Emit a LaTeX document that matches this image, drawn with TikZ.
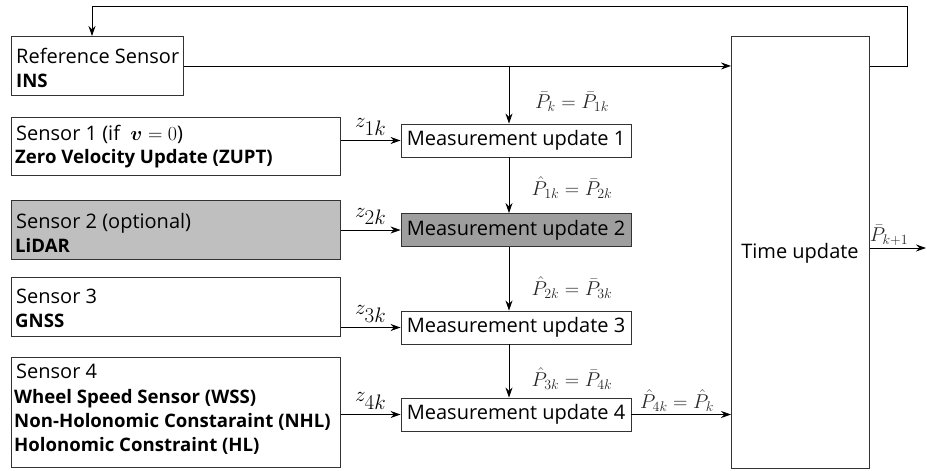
\RequirePackage{fix-cm}
\documentclass[tikz,border=0pt]{standalone}
\usepackage{amsmath,bm}
\usepackage[no-math]{fontspec}
\setmainfont{Open Sans}
\usetikzlibrary{arrows.meta}
\newcommand{\bld}[1]{{\fontsize{18.6}{24}\selectfont\bfseries #1}}
\begin{document}
\begin{tikzpicture}[x=1pt,y=-1pt,
  box/.style={draw=black!80, line width=0.9pt, inner sep=0pt, anchor=north west},
  txt/.style={inner sep=0pt, anchor=base west, font=\fontsize{20}{24}\selectfont},
  mu/.style={draw=black!80, line width=0.9pt, inner sep=0pt, minimum width=230pt, minimum height=33pt, font=\fontsize{20}{24}\selectfont},
  arr/.style={-{Stealth[length=10pt,width=7pt]}, line width=0.8pt},
  zlab/.style={inner sep=0pt, font=\fontsize{21}{24}\selectfont},
  plab/.style={inner sep=0pt, text=black!85, font=\fontsize{20}{24}\selectfont}
]
\useasboundingbox (0,0) rectangle (927,471);
% sensor boxes
\node[box, minimum width=172pt, minimum height=59pt] (ref) at (11,36) {};
\node[box, minimum width=329pt, minimum height=58pt] (s1) at (11,117) {};
\node[box, minimum width=329pt, minimum height=59pt, fill=black!25] (s2) at (11,200) {};
\node[box, minimum width=329pt, minimum height=59pt] (s3) at (11,277) {};
\node[box, minimum width=329pt, minimum height=110pt] (s4) at (11,357) {};
% texts
\node[txt] (reft1) at (16,63) {Reference Sensor};
\node[txt] (reft2) at (16,87) {\bld{INS}};
\node[txt] (s1t1) at (16,140) {Sensor 1 (if \ $\bm{v}=0$)};
\node[txt] (s1t2) at (15,163) {\bld{Zero Velocity Update (ZUPT)}};
\node[txt] (s2t1) at (16,228) {Sensor 2 (optional)};
\node[txt] (s2t2) at (15,252) {\bld{LiDAR}};
\node[txt] (s3t1) at (16,303) {Sensor 3};
\node[txt] (s3t2) at (15,327) {\bld{GNSS}};
\node[txt] (s4t1) at (16,378) {Sensor 4};
\node[txt] (s4t2) at (14,403) {\bld{Wheel Speed Sensor (WSS)}};
\node[txt] (s4t3) at (14,427) {\bld{Non-Holonomic Constaraint (NHL)}};
\node[txt] (s4t4) at (14,451) {\bld{Holonomic Constraint (HL)}};
% measurement updates
\node[mu] (mu1) at (516,140.5) {Measurement update 1};
\node[mu, fill=black!38] (mu2) at (516,230) {Measurement update 2};
\node[mu] (mu3) at (516,327.5) {Measurement update 3};
\node[mu] (mu4) at (516,414.5) {Measurement update 4};
% time update
\node[box, minimum width=138pt, minimum height=432pt] (tu) at (731,36) {};
\node[inner sep=0pt, font=\fontsize{20}{24}\selectfont] (tut) at (800,253) {Time update};
% sensor arrows
\draw[arr] (s1.east |- mu1.west) -- (mu1.west) node[zlab, midway, above=5pt] (z1) {$z_{\textstyle 1k}$};
\draw[arr] (s2.east |- mu2.west) -- (mu2.west) node[zlab, midway, above=5pt] (z2) {$z_{\textstyle 2k}$};
\draw[arr] (s3.east |- mu3.west) -- (mu3.west) node[zlab, midway, above=5pt] (z3) {$z_{\textstyle 3k}$};
\draw[arr] (s4.east |- mu4.west) -- (mu4.west) node[zlab, midway, above=5pt] (z4) {$z_{\textstyle 4k}$};
% INS to time update
\draw[arr] (ref.east) -- (ref.east -| tu.west);
\coordinate (vx) at (509,65.5);
\draw[arr] (vx) -- (vx |- mu1.north);
\draw[arr] (vx |- mu1.south) -- (vx |- mu2.north);
\draw[arr] (vx |- mu2.south) -- (vx |- mu3.north);
\draw[arr] (vx |- mu3.south) -- (vx |- mu4.north);
\draw[arr] (mu4.east) -- (mu4.east -| tu.west);
% feedback
\coordinate (fbA) at (907,6);
\coordinate (fbB) at (92,6);
\draw[arr] (ref.east -| tu.east) -| (fbA) -- (fbB) -- (fbB |- ref.north);
% output
\coordinate (outE) at (926,248);
\draw[arr] (outE -| tu.east) -- (outE);
% P labels
\node[plab] (p0) at (572,102) {$\bar{P}_k=\bar{P}_{1k}$};
\node[plab] (p1) at (572,188) {$\hat{P}_{1k}=\bar{P}_{2k}$};
\node[plab] (p2) at (572,288) {$\hat{P}_{2k}=\bar{P}_{3k}$};
\node[plab] (p3) at (572,379) {$\hat{P}_{3k}=\bar{P}_{4k}$};
\node[plab] (p4) at (677,401) {$\hat{P}_{4k}=\hat{P}_k$};
\node[plab] (p5) at (889,235) {$\bar{P}_{k+1}$};
\end{tikzpicture}
\end{document}
